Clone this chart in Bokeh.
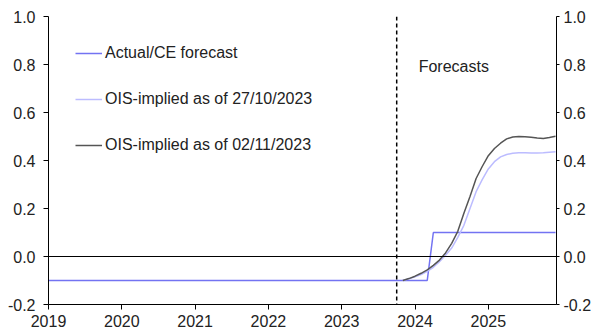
from bokeh.plotting import figure
from bokeh.embed import file_html
from bokeh.resources import INLINE
from bokeh.models import (Legend, LegendItem, Span, Label, LinearAxis, FixedTicker,
                          PrintfTickFormatter, Range1d)
import pandas as pd

# ---- data ----
actual_months = ["2019-01", "2024-03", "2024-04", "2025-12"]
actual_values = [-0.1, -0.1, 0.1, 0.1]

ois_months = [str(p) for p in pd.period_range("2023-11", "2025-12", freq="M")]
ois_2710 = [-0.100, -0.093, -0.085, -0.075, -0.062, -0.045, -0.022, 0.005, 0.035, 0.080,
            0.130, 0.200, 0.270, 0.320, 0.365, 0.395, 0.415, 0.425, 0.430, 0.432,
            0.432, 0.431, 0.431, 0.432, 0.434, 0.436]
ois_0211 = [-0.100, -0.092, -0.082, -0.070, -0.056, -0.037, -0.015, 0.015, 0.055, 0.105,
            0.180, 0.250, 0.325, 0.375, 0.420, 0.450, 0.472, 0.490, 0.498, 0.500,
            0.499, 0.497, 0.494, 0.492, 0.496, 0.501]

year_ticks = [2019, 2020, 2021, 2022, 2023, 2024, 2025]
y_ticks = [-0.2, 0.0, 0.2, 0.4, 0.6, 0.8, 1.0]
forecast_start = "2023-10"
labels = ["Actual/CE forecast", "OIS-implied as of 27/10/2023", "OIS-implied as of 02/11/2023"]


def ym(s):
    y, m = s.split("-")
    return int(y) + (int(m) - 1) / 12


FONT = "Liberation Sans"
TXT = "#222222"

p = figure(width=594, height=334, x_range=Range1d(2019, 2025.93), y_range=Range1d(-0.2, 1.0),
           output_backend="svg", toolbar_location=None,
           min_border_left=48, min_border_right=34, min_border_top=16, min_border_bottom=30)
p.xgrid.visible = False
p.ygrid.visible = False
p.outline_line_color = None
p.background_fill_color = "white"

# axes
xa = p.xaxis[0]
xa.ticker = FixedTicker(ticks=year_ticks)
xa.formatter = PrintfTickFormatter(format="%d")
xa.minor_tick_line_color = None
xa.major_tick_in = 0
xa.major_tick_out = 5
xa.major_label_standoff = 5
xa.axis_line_color = "black"
xa.major_tick_line_color = "black"
xa.major_label_text_font = FONT
xa.major_label_text_font_size = "16px"
xa.major_label_text_color = TXT

ya = p.yaxis[0]
ya.ticker = FixedTicker(ticks=y_ticks)
ya.formatter = PrintfTickFormatter(format="%.1f")
ya.minor_tick_line_color = None
ya.major_tick_in = 0
ya.major_tick_out = 5
ya.major_label_standoff = 8
ya.axis_line_color = "black"
ya.major_tick_line_color = "black"
ya.major_label_text_font = FONT
ya.major_label_text_font_size = "16px"
ya.major_label_text_color = TXT

ra = LinearAxis(ticker=FixedTicker(ticks=y_ticks), formatter=PrintfTickFormatter(format="%.1f"))
ra.minor_tick_line_color = None
ra.major_tick_in = 0
ra.major_tick_out = 3
ra.major_label_standoff = 4
ra.axis_line_color = "black"
ra.major_tick_line_color = "black"
ra.major_label_text_font = FONT
ra.major_label_text_font_size = "16px"
ra.major_label_text_color = TXT
p.add_layout(ra, "right")

# reference lines
p.add_layout(Span(location=0, dimension="width", line_color="black", line_width=1))
p.add_layout(Span(location=ym(forecast_start), dimension="height", line_color="black",
                  line_width=1.5, line_dash="4 3"))

# series
r1 = p.line([ym(m) for m in actual_months], actual_values, line_color="#7373f2", line_width=1.5)
r2 = p.line([ym(m) for m in ois_months], ois_2710, line_color="#bcbcff", line_width=1.5)
r3 = p.line([ym(m) for m in ois_months], ois_0211, line_color="#555555", line_width=1.5)

p.add_layout(Label(x=2024.05, y=0.79, text="Forecasts", text_font=FONT, text_font_size="16px",
                   text_color=TXT, text_baseline="middle", text_align="left"))

legend = Legend(items=[LegendItem(label=labels[0], renderers=[r1]),
                       LegendItem(label=labels[1], renderers=[r2]),
                       LegendItem(label=labels[2], renderers=[r3])],
                location="top_left", margin=27, padding=0, spacing=26,
                glyph_width=27, glyph_height=20, label_height=20, label_standoff=3,
                background_fill_alpha=0, border_line_color=None,
                label_text_font=FONT, label_text_font_size="16px", label_text_color=TXT)
p.add_layout(legend)

open("out.html", "w").write(file_html(p, INLINE))
